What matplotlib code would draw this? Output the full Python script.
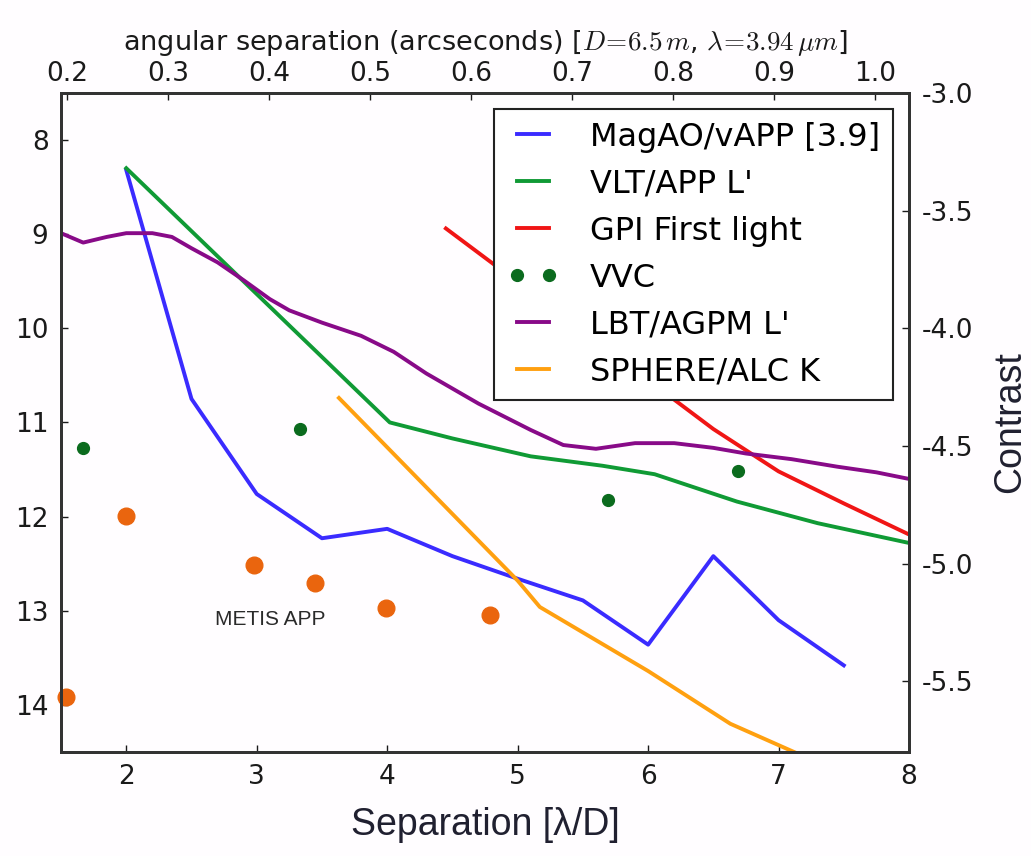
import numpy as np
import matplotlib
matplotlib.use('Agg')
import matplotlib.pyplot as plt

plt.rcParams['font.family'] = ['DejaVu Sans']
plt.rcParams['mathtext.fontset'] = 'cm'
plt.rcParams['axes.unicode_minus'] = False

# separation in lambda/D, magnitude (left axis, inverted)
magao_x = [2.0, 2.5, 3.0, 3.5, 4.0, 4.5, 5.0, 5.5, 6.0, 6.5, 7.0, 7.5]
magao_y = [8.32, 10.75, 11.76, 12.23, 12.13, 12.42, 12.66, 12.89, 13.36, 12.42, 13.1, 13.58]

vlt_x = [2.0, 4.02, 4.5, 5.1, 5.65, 6.05, 6.68, 7.3, 8.0]
vlt_y = [8.3, 11.0, 11.17, 11.36, 11.46, 11.55, 11.84, 12.07, 12.28]

gpi_x = [4.45, 5.0, 5.5, 6.0, 6.5, 7.0, 7.5, 8.0]
gpi_y = [8.94, 9.51, 10.03, 10.55, 11.07, 11.52, 11.86, 12.19]

vvc_x = [1.67, 3.33, 5.69, 6.69]
vvc_y = [11.27, 11.07, 11.82, 11.52]

lbt_x = [1.5, 1.67, 1.85, 2.0, 2.2, 2.35, 2.5, 2.7, 2.9, 3.1, 3.25, 3.5, 3.8, 4.05,
         4.3, 4.7, 5.1, 5.35, 5.6, 5.9, 6.2, 6.5, 6.75, 7.1, 7.45, 7.75, 8.0]
lbt_y = [8.99, 9.09, 9.03, 8.99, 8.99, 9.03, 9.15, 9.3, 9.49, 9.69, 9.81, 9.94, 10.08, 10.25,
         10.48, 10.8, 11.08, 11.24, 11.28, 11.22, 11.22, 11.27, 11.33, 11.39, 11.47, 11.53, 11.6]

sphere_x = [3.63, 5.0, 5.17, 6.0, 6.63, 7.2]
sphere_y = [10.74, 12.68, 12.96, 13.64, 14.2, 14.55]

metis_x = [1.54, 2.0, 2.98, 3.45, 3.99, 4.79]
metis_y = [13.92, 11.99, 12.51, 12.71, 12.97, 13.04]

arcsec_per_lod = 0.1292
xlim = (1.5, 8.0)
ylim = (14.5, 7.5)
top_ticks = [0.2, 0.3, 0.4, 0.5, 0.6, 0.7, 0.8, 0.9, 1.0]
right_ticks = [-3.0, -3.5, -4.0, -4.5, -5.0, -5.5]

fig = plt.figure(figsize=(10.31, 8.56), dpi=100, facecolor='#fffdff')
ax = fig.add_axes([0.0592, 0.1215, 0.8225, 0.77])
ax.set_facecolor('#fffdff')

lw = 2.8
ax.plot(magao_x, magao_y, color='#3a2bff', lw=lw, label='MagAO/vAPP [3.9]')
ax.plot(vlt_x, vlt_y, color='#109a35', lw=lw, label="VLT/APP L'")
ax.plot(gpi_x, gpi_y, color='#f01515', lw=lw, label='GPI First light')
ax.plot(vvc_x, vvc_y, 'o', color='#0b6b1e', ms=8.5, mec='#0b6b1e', label='VVC')
ax.plot(lbt_x, lbt_y, color='#880a88', lw=lw, label="LBT/AGPM L'")
ax.plot(sphere_x, sphere_y, color='#ffa010', lw=lw, label='SPHERE/ALC K')
ax.plot(metis_x, metis_y, 'o', color='#ea650e', ms=12, mec='#ea650e', clip_on=False)
ax.text(3.1, 13.09, 'METIS APP', fontsize=15, family='Liberation Sans', color='#2a2a2a',
        ha='center', va='center')

ax.set_xlim(*xlim)
ax.set_ylim(*ylim)
ax.set_xticks([2, 3, 4, 5, 6, 7, 8])
ax.set_yticks([8, 9, 10, 11, 12, 13, 14])
ax.tick_params(direction='in', length=5, width=1, labelsize=19, pad=9, colors='#1a1a1a')
ax.set_xlabel('Separation [λ/D]', fontsize=27, family='Liberation Sans', color='#202030', labelpad=12)

leg = ax.legend(loc='upper right', fontsize=23, numpoints=2, fancybox=False, framealpha=1,
                edgecolor='#222222', handlelength=1.6, handletextpad=1.0, labelspacing=0.5,
                borderpad=0.4, borderaxespad=0.5)
leg.get_frame().set_linewidth(1.5)

# top axis: angular separation
axt = ax.twiny()
axt.set_xlim(xlim[0] * arcsec_per_lod, xlim[1] * arcsec_per_lod)
axt.set_xticks(top_ticks)
axt.set_xticklabels(['%.1f' % t for t in top_ticks])
axt.tick_params(direction='in', length=5, width=1, labelsize=19, pad=4, colors='#1a1a1a')
axt.set_xlabel(r'angular separation (arcseconds) [$D\!=\!6.5\,m$, $\lambda\!=\!3.94\,\mu m$]',
               fontsize=19.5, labelpad=8, color='#1a1a1a')

# right axis: contrast (log10)
axr = ax.twinx()
axr.set_ylim(-0.4 * ylim[0], -0.4 * ylim[1])
axr.set_yticks(right_ticks)
axr.set_yticklabels(['%.1f' % t for t in right_ticks])
axr.tick_params(direction='in', length=5, width=1, labelsize=19, pad=9, colors='#1a1a1a')
axr.set_ylabel('Contrast', fontsize=27, family='Liberation Sans', color='#202030', labelpad=14)

for a in (ax, axt, axr):
    for s in a.spines.values():
        s.set_linewidth(2)
        s.set_color('#333333')

fig.savefig('out.png', dpi=100, facecolor=fig.get_facecolor())
